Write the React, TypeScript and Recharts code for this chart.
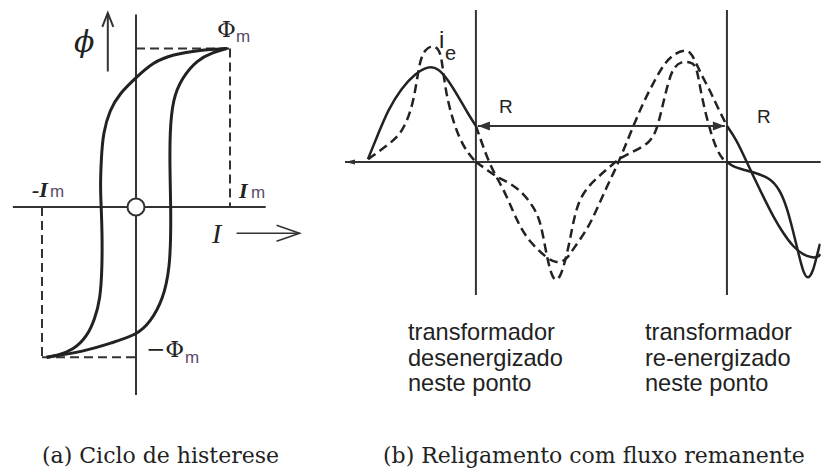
import { LineChart, Line, XAxis, YAxis, ReferenceLine, ReferenceDot } from 'recharts';

// (a) ciclo de histerese: corrente em Im, fluxo em Φm
const descI = [0.97, 0.68, 0.39, 0.18, 0, -0.17, -0.28, -0.35, -0.37, -0.38, -0.37, -0.36, -0.36, -0.38, -0.44, -0.52, -0.67, -0.84, -0.95];
const descPhi = [1.03, 1.02, 0.99, 0.94, 0.84, 0.74, 0.63, 0.48, 0.31, 0.13, 0, -0.17, -0.39, -0.6, -0.73, -0.84, -0.93, -0.965, -0.975];
const ascI = [-0.95, -0.56, -0.25, 0.01, 0.15, 0.29, 0.36, 0.37, 0.37, 0.36, 0.36, 0.39, 0.49, 0.65, 0.82, 0.97];
const ascPhi = [-0.975, -0.94, -0.88, -0.83, -0.75, -0.6, -0.39, -0.17, 0, 0.26, 0.48, 0.7, 0.84, 0.955, 1.005, 1.03];
const PHI_MAX = 1.03;
const PHI_MIN = -0.975;
const I_MAX = 1;

// (b) religamento: ângulo em graus, valores em p.u.
const T_OPEN = 155.5;
const T_CLOSE = 517;
const R = 0.38;

const fluxOnT = [0, 15, 29, 48.5, 68, 87, 101, 116, 130, 144, 155.5];
const fluxOnV = [0.03, 0.3, 0.55, 0.78, 0.93, 1.01, 0.99, 0.86, 0.69, 0.51, 0.38];
const curOnT = [0.4, 29, 48.5, 63, 70, 75, 82, 92, 101, 106, 111, 118, 130, 144, 155.5];
const curOnV = [0.03, 0.18, 0.3, 0.55, 0.83, 1.07, 1.18, 1.23, 1.2, 1.11, 0.79, 0.55, 0.27, 0.09, 0];

const fluxOffT = [155.5, 166, 178, 195, 209, 219, 233, 257, 272, 286, 296, 315, 329, 344, 358, 365, 380, 396, 413, 427, 441, 456, 464, 471, 480, 492, 502, 517];
const fluxOffV = [0.38, 0.16, -0.07, -0.28, -0.52, -0.68, -0.84, -1.01, -1.07, -1.03, -0.91, -0.72, -0.51, -0.26, -0.05, 0.07, 0.34, 0.62, 0.86, 1.04, 1.14, 1.18, 1.16, 1.07, 0.92, 0.76, 0.6, 0.38];
const curOffT = [155.5, 171, 188, 204.5, 224, 238, 248, 255, 262, 269, 276.5, 284, 291, 300.5, 315, 334, 353, 365, 382, 406, 416, 423, 432, 440, 452, 464, 473, 478, 485, 492.5, 502, 511.6, 517];
const curOffV = [0, -0.08, -0.17, -0.22, -0.33, -0.47, -0.61, -0.89, -1.14, -1.26, -1.22, -1.05, -0.82, -0.45, -0.27, -0.14, -0.02, 0.05, 0.11, 0.2, 0.34, 0.55, 0.83, 1.0, 1.06, 1.05, 1.02, 0.79, 0.55, 0.34, 0.13, 0.02, 0];

const fluxReT = [517, 531, 543, 555, 569, 584, 598, 612, 627, 641, 648, 652];
const fluxReV = [0.38, 0.23, 0.04, -0.15, -0.36, -0.58, -0.75, -0.89, -0.98, -1.01, -1.0, -0.97];
const curReT = [517, 526, 540, 560, 579, 593, 603, 612, 620, 627, 634, 641, 646, 651];
const curReV = [0, -0.05, -0.08, -0.12, -0.17, -0.29, -0.47, -0.72, -0.96, -1.17, -1.24, -1.15, -1.0, -0.86];

const INK = '#222';
const AXIS = '#333';
const DASH = '9 5';

const pts = (xs: number[], ys: number[], kx: string, ky: string) =>
  xs.map((x, i) => ({ [kx]: x, [ky]: ys[i] }));

type HeadOpts = { len: number; half: number; open?: boolean; start?: boolean; end?: boolean; width?: number };

// desenha o segmento com pontas de seta
function arrow(o: HeadOpts) {
  return (p: any) => {
    const { x1, y1, x2, y2 } = p;
    const L = Math.hypot(x2 - x1, y2 - y1) || 1;
    const ux = (x2 - x1) / L;
    const uy = (y2 - y1) / L;
    const w = o.width ?? 2;
    const head = (tx: number, ty: number, dx: number, dy: number, key: string) => {
      const bx = tx - dx * o.len;
      const by = ty - dy * o.len;
      const px = -dy * o.half;
      const py = dx * o.half;
      const pp = `${bx + px},${by + py} ${tx},${ty} ${bx - px},${by - py}`;
      return o.open ? (
        <polyline key={key} points={pp} fill="none" stroke={AXIS} strokeWidth={w} />
      ) : (
        <polygon key={key} points={pp} fill={AXIS} stroke="none" />
      );
    };
    return (
      <g>
        <line x1={x1} y1={y1} x2={x2} y2={y2} stroke={AXIS} strokeWidth={w} />
        {o.start && head(x1, y1, -ux, -uy, 's')}
        {o.end && head(x2, y2, ux, uy, 'e')}
      </g>
    );
  };
}

const serif = '"DejaVu Serif", serif';
const times = '"Liberation Serif", serif';
const sans = '"Liberation Sans", Arial, sans-serif';
const SUB = '#5b4a6b';

function Labels() {
  const note = (x: number, lines: string[]) =>
    lines.map((s, k) => (
      <text key={s} x={x} y={340 + k * 25.5} fontFamily={sans} fontSize={23.6} fill={INK}>
        {s}
      </text>
    ));
  return (
    <svg width={821} height={470} style={{ position: 'absolute', left: 0, top: 0, pointerEvents: 'none' }}>
      <text x={74} y={52} fontFamily={serif} fontStyle="italic" fontSize={30} fill={INK}>ϕ</text>
      <text x={217} y={37} fontFamily={serif} fontSize={23} fill={INK}>Φ</text>
      <text x={236} y={42} fontFamily={sans} fontSize={17} fill={SUB}>m</text>
      <text x={32} y={197} fontFamily={times} fontWeight="bold" fontStyle="italic" fontSize={22} fill={INK}>-I</text>
      <text x={50} y={197} fontFamily={sans} fontSize={17} fill={SUB}>m</text>
      <text x={239} y={198} fontFamily={times} fontWeight="bold" fontStyle="italic" fontSize={22} fill={INK}>I</text>
      <text x={251} y={198} fontFamily={sans} fontSize={17} fill={SUB}>m</text>
      <text x={212} y={243} fontFamily={times} fontStyle="italic" fontSize={28} fill={INK}>I</text>
      <text x={146} y={357} fontFamily={serif} fontSize={23} fill={INK}>−Φ</text>
      <text x={185} y={363} fontFamily={sans} fontSize={17} fill={SUB}>m</text>

      <text x={439} y={48} fontFamily={sans} fontSize={24} fill={INK}>i</text>
      <text x={445} y={60} fontFamily={sans} fontSize={20} fill={INK}>e</text>
      <text x={499} y={113} fontFamily={sans} fontSize={19} fill={INK}>R</text>
      <text x={757} y={123} fontFamily={sans} fontSize={19} fill={INK}>R</text>
      {note(408, ['transformador', 'desenergizado', 'neste ponto'])}
      {note(645, ['transformador', 're-energizado', 'neste ponto'])}

      <text x={42} y={463} fontFamily={serif} fontSize={22} fill={INK}>(a) Ciclo de histerese</text>
      <text x={383} y={463} fontFamily={serif} fontSize={22} fill={INK}>(b) Religamento com fluxo remanente</text>
    </svg>
  );
}

function Hysteresis() {
  return (
    <LineChart width={310} height={405} margin={{ top: 6.8, right: 4.8, bottom: 5.5, left: 4.4 }}>
      <XAxis type="number" dataKey="i" domain={[-1.4, 1.8]} hide allowDataOverflow />
      <YAxis type="number" dataKey="phi" domain={[-1.25, 1.3]} hide allowDataOverflow />
      <ReferenceLine segment={[{ x: -1.31, y: 0 }, { x: 1.38, y: 0 }]} stroke={AXIS} strokeWidth={2} />
      <ReferenceLine segment={[{ x: 0, y: -1.22 }, { x: 0, y: 1.25 }]} stroke={AXIS} strokeWidth={2} />
      <ReferenceLine segment={[{ x: 0, y: PHI_MAX }, { x: I_MAX, y: PHI_MAX }]} stroke={AXIS} strokeWidth={2} strokeDasharray={DASH} />
      <ReferenceLine segment={[{ x: I_MAX, y: PHI_MAX }, { x: I_MAX, y: 0 }]} stroke={AXIS} strokeWidth={2} strokeDasharray={DASH} />
      <ReferenceLine segment={[{ x: -I_MAX, y: 0 }, { x: -I_MAX, y: PHI_MIN }]} stroke={AXIS} strokeWidth={2} strokeDasharray={DASH} />
      <ReferenceLine segment={[{ x: -I_MAX, y: PHI_MIN }, { x: 0, y: PHI_MIN }]} stroke={AXIS} strokeWidth={2} strokeDasharray={DASH} />
      <ReferenceLine segment={[{ x: -0.3, y: 0.88 }, { x: -0.3, y: 1.26 }]} shape={arrow({ len: 14, half: 5.5, open: true, end: true, width: 2 })} />
      <ReferenceLine segment={[{ x: 1.07, y: -0.17 }, { x: 1.74, y: -0.17 }]} shape={arrow({ len: 23, half: 8, open: true, end: true, width: 1.6 })} />
      <Line data={pts(descI, descPhi, 'i', 'phi')} dataKey="phi" type="basis" stroke={INK} strokeWidth={3} dot={false} activeDot={false} isAnimationActive={false} />
      <Line data={pts(ascI, ascPhi, 'i', 'phi')} dataKey="phi" type="basis" stroke={INK} strokeWidth={3} dot={false} activeDot={false} isAnimationActive={false} />
      <ReferenceDot x={0} y={0} r={8.5} fill="#fff" stroke={AXIS} strokeWidth={2} />
    </LineChart>
  );
}

function Reclosing() {
  const series = [
    { t: fluxOnT, v: fluxOnV, dash: undefined },
    { t: curOnT, v: curOnV, dash: DASH },
    { t: fluxOffT, v: fluxOffV, dash: DASH },
    { t: curOffT, v: curOffV, dash: DASH },
    { t: fluxReT, v: fluxReV, dash: undefined },
    { t: curReT, v: curReV, dash: undefined },
  ];
  return (
    <LineChart width={482} height={300} margin={{ top: 10, right: 1.3, bottom: 5, left: 5 }}>
      <XAxis type="number" dataKey="t" domain={[-33, 652]} hide allowDataOverflow />
      <YAxis type="number" dataKey="v" domain={[-1.4, 1.6]} hide allowDataOverflow />
      <ReferenceLine y={0} shape={arrow({ len: 10, half: 2.5, start: true, width: 2 })} />
      <ReferenceLine x={T_OPEN} stroke={AXIS} strokeWidth={2} />
      <ReferenceLine x={T_CLOSE} stroke={AXIS} strokeWidth={2} />
      {series.map((s, k) => (
        <Line
          key={k}
          data={pts(s.t, s.v, 't', 'v')}
          dataKey="v"
          type="basis"
          stroke={INK}
          strokeWidth={2.5}
          strokeDasharray={s.dash}
          dot={false}
          activeDot={false}
          isAnimationActive={false}
        />
      ))}
      <ReferenceLine segment={[{ x: 158.4, y: R }, { x: 514, y: R }]} shape={arrow({ len: 12, half: 4.5, start: true, end: true, width: 2 })} />
    </LineChart>
  );
}

export default function App() {
  return (
    <div style={{ position: 'fixed', left: 0, top: 0, width: 821, height: 470, background: '#fff' }}>
      <div style={{ position: 'absolute', left: 0, top: 0 }}>
        <Hysteresis />
      </div>
      <div style={{ position: 'absolute', left: 340, top: 0 }}>
        <Reclosing />
      </div>
      <Labels />
    </div>
  );
}
